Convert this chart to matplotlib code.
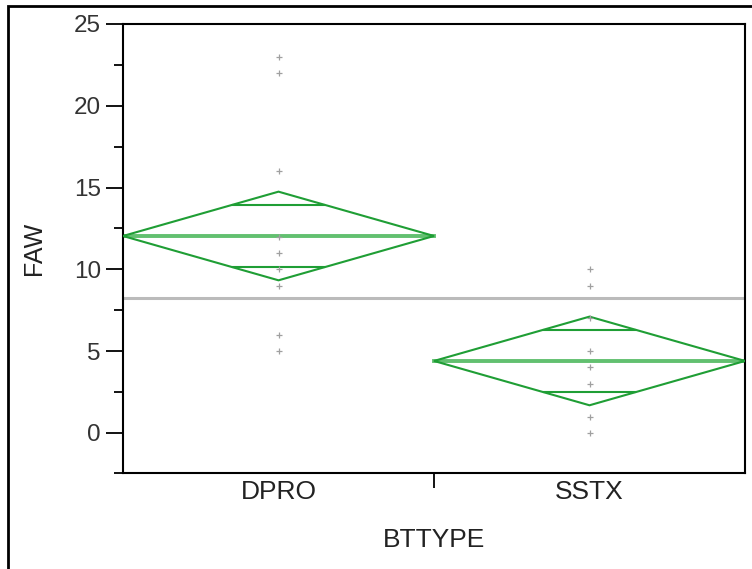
import numpy as np
import matplotlib
matplotlib.use("Agg")
import matplotlib.pyplot as plt
from matplotlib.patches import Polygon, Rectangle
from matplotlib.ticker import FixedLocator

plt.rcParams['font.family'] = ['Liberation Sans', 'DejaVu Sans']

# data
groups = ["DPRO", "SSTX"]
group_widths = [0.5, 0.5]          # share of the x axis (proportional to n)
dpro_faw = [23, 22, 16, 12, 11, 10, 9, 6, 5]
sstx_faw = [10, 9, 7, 5, 4, 3, 1, 0]
group_means = [12.04, 4.40]
ci_half = [2.71, 2.71]             # 95% CI half width of each mean
grand_mean = 8.23

green = "#1f9e35"
mean_green = "#62c070"
point_grey = "#a0a0a0"

fig = plt.figure(figsize=(7.52, 5.69), dpi=100)
ax = fig.add_axes([123 / 752, 1 - 473 / 569, 622 / 752, 449 / 569])

ax.axhline(grand_mean, color="#bbbbbb", lw=2.2, zorder=1)

left = 0.0
centers = []
for pts, w, m, h in zip([dpro_faw, sstx_faw], group_widths, group_means, ci_half):
    right = left + w
    c = (left + right) / 2
    centers.append(c)
    hw = w / 2
    # diamond
    ax.add_patch(Polygon([(left, m), (c, m + h), (right, m), (c, m - h)],
                         closed=True, fill=False, edgecolor=green, lw=1.5, zorder=3))
    # mean line
    ax.plot([left, right], [m, m], color=mean_green, lw=2.8, zorder=2)
    # overlap marks
    d = h / np.sqrt(2)
    ow = hw * (1 - d / h)
    for y in (m + d, m - d):
        ax.plot([c - ow, c + ow], [y, y], color=green, lw=1.5, zorder=3)
    # raw points
    ax.plot([c] * len(pts), pts, ls="none", marker="+", ms=4, mew=0.9,
            color=point_grey, zorder=4)
    left = right

ax.set_xlim(0, 1)
ax.set_ylim(-2.45, 25)

ax.set_yticks([0, 5, 10, 15, 20, 25])
ax.yaxis.set_minor_locator(FixedLocator([-2.45, 2.5, 7.5, 12.5, 17.5, 22.5]))
ax.set_xticks([0.5])
ax.set_xticklabels([""])
ax.set_xticks(centers, minor=True)
ax.set_xticklabels(groups, minor=True)

ax.tick_params(axis="y", which="major", direction="out", length=12.5, width=1.3,
               labelsize=17.5, pad=3.5, colors="black", labelcolor="#333333")
ax.tick_params(axis="y", which="minor", direction="out", length=6.5, width=1.3)
ax.tick_params(axis="x", which="major", direction="out", length=11, width=1.3)
ax.tick_params(axis="x", which="minor", length=0, labelsize=19, pad=5,
               labelcolor="#222222")

for s in ax.spines.values():
    s.set_linewidth(1.5)
    s.set_color("black")

ax.set_xlabel("BTTYPE", fontsize=19, color="#222222")
ax.xaxis.label.set_va("center")
ax.xaxis.set_label_coords(0.5, (473 - 540) / 449)
ax.set_ylabel("FAW", fontsize=18, color="#222222")
ax.yaxis.label.set_va("center")
ax.yaxis.set_label_coords((34 - 123) / 622, 0.5)

# outer report frame
fig.patches.append(Rectangle((8 / 752, -0.1), 1.1, 1 - 6 / 569 + 0.1,
                             transform=fig.transFigure, fill=False,
                             edgecolor="black", lw=2))

fig.savefig("out.png", dpi=100)
